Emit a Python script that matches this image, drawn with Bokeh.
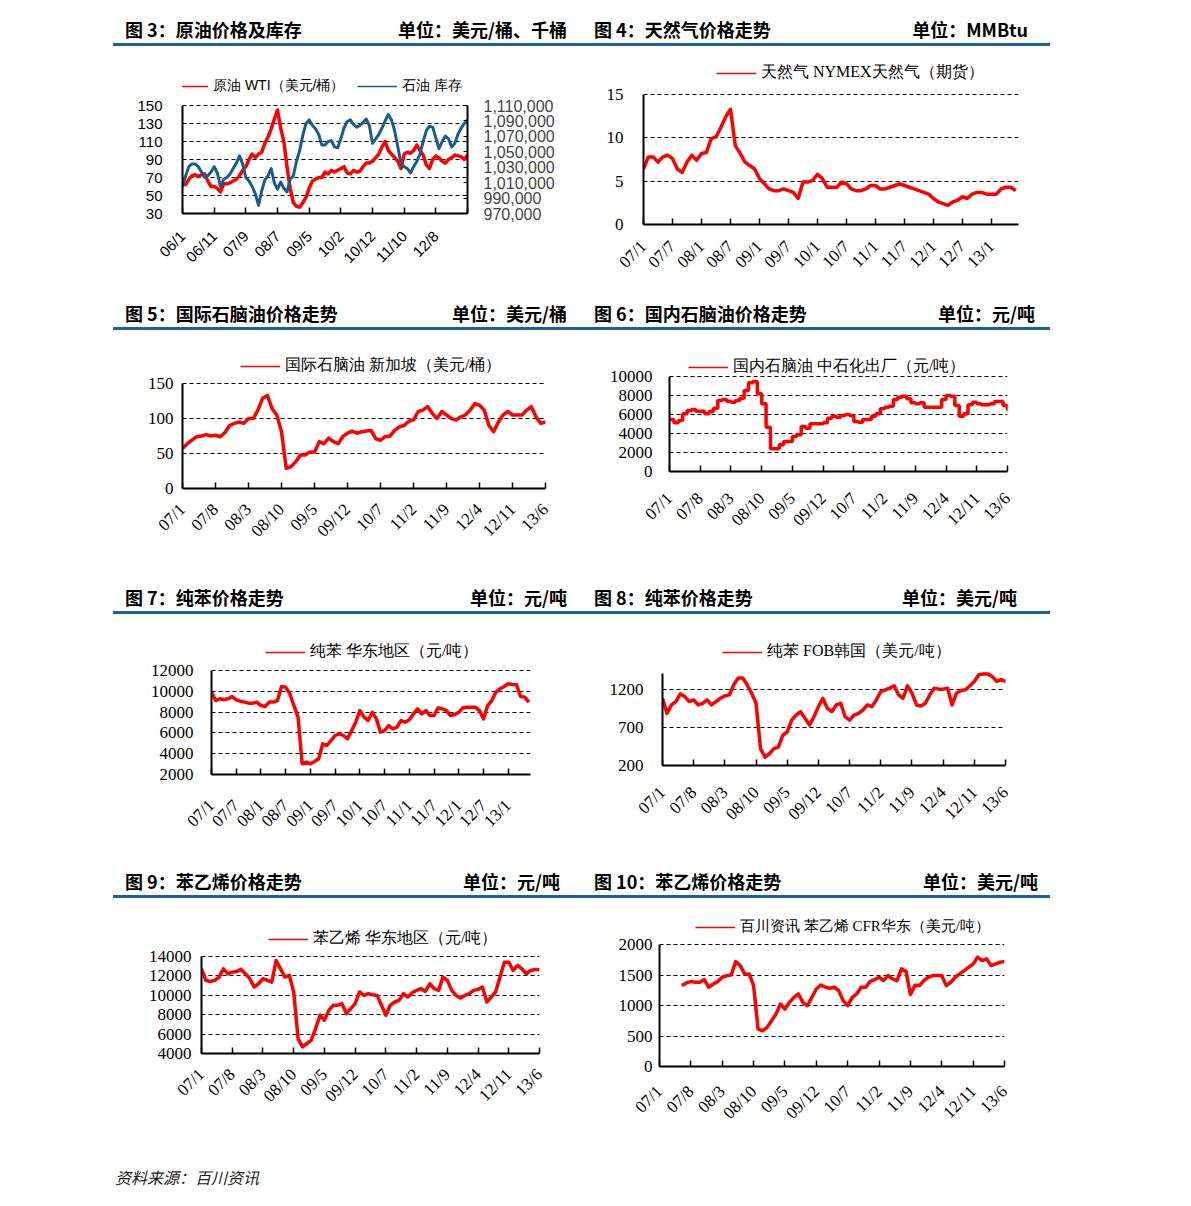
import math
from bokeh.plotting import figure
from bokeh.models import (Range1d, LinearAxis, FixedTicker, NumeralTickFormatter,
                          Legend, LegendItem, Div, Spacer)
from bokeh.layouts import row, column
from bokeh.embed import file_html
from bokeh.resources import INLINE

RED = "#ff0000"
BLUE = "#1a5c8c"
ULINE = "#1f5fa0"

# ---------------- data ----------------
# Fig 3: WTI (USD/bbl) and crude inventory (thousand bbl), 10 samples per tick interval
wti = [65, 62, 68, 72, 73, 71, 73, 74, 66, 60, 60, 58, 54, 63, 63, 64, 66, 68, 72, 78,
       82, 90, 96, 92, 96, 98, 108, 115, 124, 135, 145, 125, 110, 82, 58, 42, 38, 37, 42, 48,
       58, 66, 68, 70, 70, 76, 74, 78, 76, 78, 80, 82, 75, 74, 78, 76, 77, 82, 86, 86,
       88, 92, 96, 104, 110, 100, 96, 92, 88, 80, 96, 98, 97, 100, 106, 100, 95, 84, 80, 90,
       94, 92, 88, 86, 90, 92, 95, 94, 93, 90, 95]
inventory = [1004400, 1019000, 1030700, 1034200, 1034200, 1030700, 1023700, 1016700, 1019000, 1023700,
             1030700, 1022500, 1005000, 1014300, 1016700, 1021300, 1028300, 1035300, 1044700, 1034200,
             1016700, 1012000, 1005000, 995700, 980500, 999200, 1013200, 1019000, 1028300, 1009700,
             1001500, 1010800, 1002700, 998000, 1014300, 1019000, 1037700, 1051700, 1071500, 1086700,
             1091300, 1084300, 1079700, 1072700, 1058700, 1058700, 1063300, 1064500, 1056300, 1055200,
             1066800, 1080800, 1089000, 1091300, 1085500, 1082000, 1084300, 1087800, 1092500, 1084300,
             1061000, 1066800, 1072700, 1080800, 1090200, 1098300, 1091300, 1077300, 1056300, 1035300,
             1030700, 1028300, 1022500, 1030700, 1037700, 1047000, 1063300, 1077300, 1083200, 1082000,
             1068000, 1054000, 1063300, 1070300, 1066800, 1056300, 1061000, 1072700, 1080800, 1086700,
             1091300]
fig3_ticks = [0, 10, 20, 30, 40, 50, 60, 70, 80, 90]
fig3_labels = ["06/1", "06/11", "07/9", "08/7", "09/5", "10/2", "10/12", "11/10", "12/8", ""]

# Monthly series starting 07/1
natgas = [6.4, 7.8, 7.8, 7.2, 7.8, 8.0, 7.6, 6.4, 6.0, 7.2, 8.0, 7.4, 8.2, 8.3, 9.9, 10.1, 11.2, 12.4,
          13.3, 9.1, 8.2, 7.2, 6.8, 6.4, 5.3, 4.7, 4.1, 3.9, 3.9, 4.1, 3.9, 3.7, 3.0, 4.9, 4.9, 5.1,
          5.8, 5.3, 4.3, 4.3, 4.3, 4.9, 4.7, 4.1, 3.9, 3.9, 4.1, 4.5, 4.5, 4.1, 4.1, 4.3, 4.5, 4.7,
          4.5, 4.3, 4.1, 3.9, 3.7, 3.5, 3.0, 2.6, 2.4, 2.2, 2.6, 2.8, 3.2, 3.0, 3.5, 3.7, 3.7, 3.5,
          3.5, 3.5, 4.1, 4.3, 4.3, 3.9]
naphtha_sg = [57, 64, 69, 74, 75, 77, 75, 76, 74, 80, 90, 93, 95, 93, 100, 100, 112, 129, 133, 114,
              105, 81, 29, 31, 38, 48, 48, 52, 52, 67, 64, 72, 67, 64, 74, 79, 82, 79, 81, 82,
              83, 71, 69, 74, 75, 83, 88, 90, 96, 98, 110, 112, 117, 107, 100, 110, 105, 100, 98, 102,
              105, 112, 121, 119, 112, 90, 81, 95, 105, 110, 105, 105, 105, 112, 117, 102, 93, 95]
naphtha_cn = [5470, 5120, 5370, 6070, 6420, 6530, 6350, 6350, 6070, 6320, 6670, 7470, 7580, 7400, 7300,
              7470, 7720, 8530, 9330, 9470, 8180, 7120, 4670, 2390, 2390, 2810, 3160, 3160, 3680, 3860,
              4740, 4560, 5020, 5020, 5020, 5120, 5610, 5820, 5720, 5890, 6000, 5890, 5260, 5190, 5470,
              5470, 5820, 6070, 6600, 6770, 6880, 7580, 7820, 7930, 7650, 7230, 7120, 7230, 6770, 6770,
              6770, 6770, 7580, 8000, 7930, 6950, 5820, 6070, 7020, 7300, 7120, 7020, 7020, 7120, 7370,
              7370, 6950, 6420]
benzene_cn = [9920, 9110, 9280, 9210, 9280, 9500, 9180, 9050, 8960, 8860, 8860, 8960, 8630, 8540, 8960,
              8960, 9110, 10460, 10400, 9760, 8630, 7510, 3030, 3190, 3030, 3250, 3510, 4950, 4790, 5270,
              5750, 5910, 5750, 5430, 6230, 7030, 8150, 7510, 7190, 7990, 7350, 6070, 6230, 6710, 6390,
              6550, 7190, 7030, 7260, 7830, 8310, 7830, 8150, 7670, 7670, 8410, 8310, 8150, 7670, 7770,
              7990, 8410, 8470, 8470, 8470, 8150, 7350, 8630, 9110, 9920, 10240, 10460, 10720, 10650, 10620,
              9500, 9440, 8960]
benzene_kr = [1081, 883, 993, 1037, 1138, 1103, 1037, 1059, 993, 1015, 1059, 993, 1037, 1081, 1112,
              1125, 1257, 1345, 1345, 1257, 1147, 1015, 420, 310, 354, 420, 442, 596, 640, 795,
              861, 905, 817, 729, 839, 971, 1081, 949, 905, 993, 1015, 839, 795, 861, 883,
              927, 993, 971, 1059, 1169, 1191, 1213, 1244, 1125, 1081, 1244, 1147, 993, 980, 1015,
              1125, 1213, 1200, 1200, 1213, 993, 1147, 1182, 1191, 1244, 1301, 1389, 1400, 1400, 1367,
              1301, 1323, 1301]
styrene_cn = [12730, 11540, 11430, 11540, 11880, 12730, 12220, 12390, 12460, 12670, 12220, 11710, 10850,
              11190, 11710, 11540, 11360, 13590, 12730, 11880, 12050, 10340, 5540, 4690, 5030, 5370,
              6570, 7940, 7430, 8450, 8970, 8970, 9140, 8110, 8620, 9140, 10340, 9990, 10170, 10060,
              9990, 8970, 7940, 8970, 9310, 9480, 10170, 9820, 10270, 10510, 10680, 10400, 11190, 10680,
              10510, 11880, 11540, 10510, 9990, 9720, 9990, 10170, 10510, 10610, 10850, 9310, 9820, 10340,
              11880, 13420, 13420, 12560, 13080, 12730, 12220, 12560, 12670, 12630]
styrene_cfr_start = 5
styrene_cfr = [1326, 1370, 1392, 1381, 1381, 1425, 1299, 1353, 1392, 1463, 1490, 1501, 1720, 1655, 1518,
               1518, 1326, 614, 586, 641, 751, 860, 1025, 942, 1052, 1134, 1189, 1052, 997, 1134,
               1271, 1337, 1299, 1282, 1299, 1244, 1079, 997, 1134, 1189, 1299, 1299, 1392, 1425, 1463,
               1408, 1490, 1436, 1408, 1600, 1560, 1180, 1330, 1326, 1408, 1463, 1490, 1490, 1490, 1326,
               1381, 1463, 1518, 1573, 1627, 1682, 1792, 1737, 1764, 1655, 1682, 1709, 1720]

m7_ticks = [0, 7, 14, 21, 28, 35, 42, 49, 56, 63, 70, 77]
m7_labels = ["07/1", "07/8", "08/3", "08/10", "09/5", "09/12", "10/7", "11/2", "11/9", "12/4", "12/11", "13/6"]
m6_ticks = [0, 6, 12, 18, 24, 30, 36, 42, 48, 54, 60, 66, 72]
m6_labels = ["07/1", "07/7", "08/1", "08/7", "09/1", "09/7", "10/1", "10/7", "11/1", "11/7", "12/1", "12/7", "13/1"]

FIG_W, FIG_H = 475, 244
EXT = 38          # extra frame height above the data area that holds the legend
SERIF = "Liberation Serif"
SANS = "Liberation Sans"


def base_fig(x_end, y0, y1, yticks, xticks, xlabels, borders, font, fsize, xstand, ystand):
    left, right, top, bottom = borders
    plot_h = FIG_H - top - bottom
    y_top = y1 + (y1 - y0) * EXT / plot_h
    p = figure(width=FIG_W, height=FIG_H, output_backend="svg", toolbar_location=None,
               x_range=Range1d(0, x_end), y_range=Range1d(y0, y_top),
               min_border_left=left, min_border_right=right, min_border_top=top - EXT,
               min_border_bottom=bottom, margin=0)
    p.outline_line_color = None
    p.background_fill_color = "white"
    p.border_fill_color = "white"
    p.xgrid.visible = False
    p.ygrid.grid_line_color = "black"
    p.ygrid.grid_line_dash = "4 3"
    p.ygrid.grid_line_width = 1
    p.yaxis.ticker = FixedTicker(ticks=yticks)
    p.yaxis.bounds = (y0, y1)
    p.xaxis.ticker = FixedTicker(ticks=xticks)
    p.xaxis.major_label_overrides = {t: l for t, l in zip(xticks, xlabels)}
    p.xaxis.major_label_orientation = math.pi / 4
    for ax in (p.xaxis, p.yaxis):
        ax.axis_line_color = "black"
        ax.axis_line_width = 2
        ax.major_tick_line_color = "black"
        ax.major_tick_line_width = 1.5
        ax.minor_tick_line_color = None
        ax.major_label_text_font = font
        ax.major_label_text_font_size = fsize
        ax.major_label_text_color = "black"
    p.xaxis.major_tick_in = 6
    p.xaxis.major_tick_out = 0
    p.yaxis.major_tick_in = 0
    p.yaxis.major_tick_out = 0
    p.xaxis.major_label_standoff = xstand
    p.yaxis.major_label_standoff = ystand
    return p, plot_h


def add_legend(p, items, loc, font, fsize, spacing=12):
    lg = Legend(items=items, location=loc, orientation="horizontal",
                border_line_color=None, background_fill_alpha=0, padding=0, margin=0,
                spacing=spacing, glyph_width=40, glyph_height=18, label_height=18,
                label_standoff=5, label_text_font=font, label_text_font_size=fsize,
                label_text_color="black")
    p.add_layout(lg)


def monthly_fig(values, start, x_end, y0, y1, yticks, xticks, xlabels, borders, xstand, ystand,
                legend_label, legend_x, legend_gap, step=False, lfs="16px"):
    p, plot_h = base_fig(x_end, y0, y1, yticks, xticks, xlabels, borders, SERIF, "17px", xstand, ystand)
    xs = list(range(start, start + len(values)))
    if step:
        key = p.step(xs, values, mode="after", line_color=RED, line_width=1.5)
        p.step(xs, values, mode="after", line_color=RED, line_width=3.5)
    else:
        key = p.line(xs, values, line_color=RED, line_width=1.5)
        p.line(xs, values, line_color=RED, line_width=3.5, line_join="round")
    add_legend(p, [LegendItem(label=legend_label, renderers=[key])],
               (legend_x, plot_h + legend_gap), SERIF, lfs)
    return p


# ---- Fig 3 ----
p3, h3 = base_fig(90, 30, 150, [30, 50, 70, 90, 110, 130, 150], fig3_ticks, fig3_labels,
                  (77, 113, 57, 79), SANS, "15px", 20, 20)
inv_lo, inv_hi = 970000, 1110000
p3.extra_y_ranges = {"inv": Range1d(inv_lo, inv_hi + (inv_hi - inv_lo) * EXT / h3)}
rax = LinearAxis(y_range_name="inv", ticker=FixedTicker(ticks=list(range(inv_lo, inv_hi + 1, 20000))),
                 formatter=NumeralTickFormatter(format="0,0"), bounds=(inv_lo, inv_hi))
rax.axis_line_color = "black"
rax.axis_line_width = 2
rax.major_tick_in = 4
rax.major_tick_out = 0
rax.minor_tick_line_color = None
rax.major_label_text_font = SANS
rax.major_label_text_font_size = "16px"
rax.major_label_standoff = 16
p3.add_layout(rax, "right")
x3 = list(range(len(wti)))
xi = list(range(len(inventory)))
k_wti = p3.line(x3, wti, line_color=RED, line_width=1.5)
p3.line(x3, wti, line_color=RED, line_width=3.5, line_join="round")
k_inv = p3.line(xi, inventory, y_range_name="inv", line_color=BLUE, line_width=1.5)
p3.line(xi, inventory, y_range_name="inv", line_color=BLUE, line_width=3, line_join="round")
add_legend(p3, [LegendItem(label="原油 WTI（美元/桶）", renderers=[k_wti]),
                LegendItem(label="石油 库存", renderers=[k_inv])], (-14, h3 + 10), SANS, "14px", spacing=13)

# ---- Fig 4 ----
p4 = monthly_fig(natgas, 0, 77.6, 0, 15, [0, 5, 10, 15], m6_ticks, m6_labels,
                 (63, 37, 46, 68), 19, 20, "天然气 NYMEX天然气（期货）", 73, 11)
# ---- Fig 5 ----
p5 = monthly_fig(naphtha_sg, 0, 77, 0, 150, [0, 50, 100, 150], m7_ticks, m7_labels,
                 (77, 35, 51, 88), 18, 9, "国际石脑油 新加坡（美元/桶）", 58, 7)
# ---- Fig 6 ----
p6 = monthly_fig(naphtha_cn, 0, 77, 0, 10000, [0, 2000, 4000, 6000, 8000, 10000], m7_ticks, m7_labels,
                 (89, 48, 44, 105), 24, 17, "国内石脑油 中石化出厂（元/吨）", 19, -1, step=True)
# ---- Fig 7 ----
p7 = monthly_fig(benzene_cn, 0, 77.4, 2000, 12000, [2000, 4000, 6000, 8000, 10000, 12000],
                 m6_ticks, m6_labels, (106, 50, 54, 86), 28, 18, "纯苯 华东地区（元/吨）", 54, 8)
# ---- Fig 8 ----
p8 = monthly_fig(benzene_kr, 0, 77, 200, 1405, [200, 700, 1200], m7_ticks, m7_labels,
                 (82, 50, 57, 95), 24, 19, "纯苯 FOB韩国（美元/吨）", 60, 11)
# ---- Fig 9 ----
p9 = monthly_fig(styrene_cn, 0, 77, 4000, 14000, [4000, 6000, 8000, 10000, 12000, 14000],
                 m7_ticks, m7_labels, (96, 41, 56, 91), 18, 10, "苯乙烯 华东地区（元/吨）", 67, 7)
# ---- Fig 10 ----
p10 = monthly_fig(styrene_cfr, styrene_cfr_start, 77, 0, 2000, [0, 500, 1000, 1500, 2000],
                  m7_ticks, m7_labels, (79, 51, 44, 78), 22, 7, "百川资讯 苯乙烯 CFR华东（美元/吨）", 36, 8,
                  lfs="15px")


def header(title, unit, side, right_pad):
    if side == "L":
        ml, w, lp = 8, 467, 12
    else:
        ml, w, lp = 0, 470, 14
    html = (f'<div style="position:relative;box-sizing:border-box;margin-left:{ml}px;width:{w}px;height:38px;'
            f'border-bottom:3px solid {ULINE};font-family:\'Noto Sans CJK SC\',sans-serif;'
            f'font-weight:bold;font-size:18px;line-height:22px;color:#000;">'
            f'<span style="position:absolute;left:{lp}px;top:10px;white-space:nowrap;">{title}</span>'
            f'<span style="position:absolute;right:{right_pad}px;top:10px;white-space:nowrap;">{unit}</span>'
            f'</div>')
    return Div(text=html, width=FIG_W, height=40, margin=0)


panels = [
    (p3, "图 3：原油价格及库存", "单位：美元/桶、千桶", "L", 13),
    (p4, "图 4：天然气价格走势", "单位：MMBtu", "R", 22),
    (p5, "图 5：国际石脑油价格走势", "单位：美元/桶", "L", 13),
    (p6, "图 6：国内石脑油价格走势", "单位：元/吨", "R", 15),
    (p7, "图 7：纯苯价格走势", "单位：元/吨", "L", 13),
    (p8, "图 8：纯苯价格走势", "单位：美元/吨", "R", 33),
    (p9, "图 9：苯乙烯价格走势", "单位：元/吨", "L", 20),
    (p10, "图 10：苯乙烯价格走势", "单位：美元/吨", "R", 12),
]

rows = [Spacer(width=10, height=8, margin=0)]
for i in range(0, 8, 2):
    cols = []
    for fig_, t, u, s, rp in panels[i:i + 2]:
        cols.append(column(header(t, u, s, rp), fig_, spacing=0, margin=0))
    rows.append(row(Spacer(width=105, height=284, margin=0), *cols, spacing=0, margin=0))

footer = Div(text=('<div style="position:relative;width:300px;height:45px;">'
                   '<span style="position:absolute;left:10px;top:23px;font-family:\'Noto Sans CJK SC\',sans-serif;'
                   'font-style:italic;font-size:16px;line-height:20px;color:#222;white-space:nowrap;">'
                   '资料来源：百川资讯</span></div>'), width=400, height=45, margin=0)
rows.append(row(Spacer(width=105, height=45, margin=0), footer, spacing=0, margin=0))

layout = column(*rows, spacing=0, margin=0)

open("out.html", "w").write(file_html(layout, INLINE))
